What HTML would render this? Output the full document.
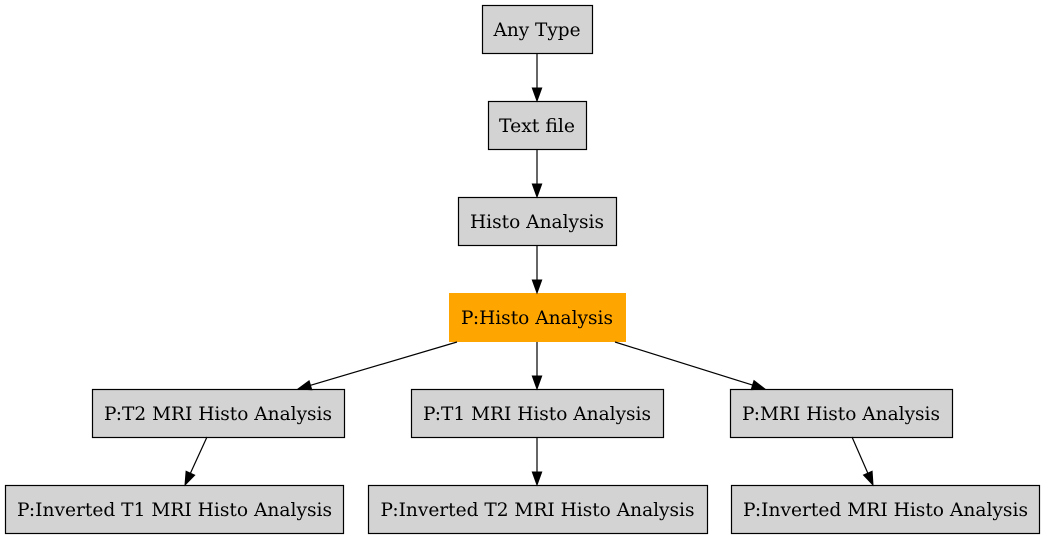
<!DOCTYPE html>
<html>
<head>
<meta charset="utf-8">
<style>
html,body{margin:0;padding:0;background:#fff;}
svg{display:block;}
text{font-family:"DejaVu Serif","Liberation Serif",serif;font-size:18.5px;fill:#000;}
</style>
</head>
<body>
<svg width="1045" height="539" viewBox="0 0 1045 539" xmlns="http://www.w3.org/2000/svg">
<g stroke="#000" stroke-width="1.2" fill="#d3d3d3">
<rect x="482.5" y="5.5" width="110" height="48"/>
<rect x="488.5" y="101.5" width="98" height="48"/>
<rect x="458.5" y="197.5" width="158" height="48"/>
<rect x="92.5" y="389.5" width="252" height="48"/>
<rect x="411.5" y="389.5" width="252" height="48"/>
<rect x="730.5" y="389.5" width="222" height="48"/>
<rect x="5.5" y="485.5" width="338" height="48"/>
<rect x="368.5" y="485.5" width="339" height="48"/>
<rect x="731.5" y="485.5" width="308" height="48"/>
</g>
<rect x="449" y="293" width="177" height="49" fill="#ffa500"/>

<g stroke="#000" stroke-width="1.2" fill="none">
<line x1="537" y1="53" x2="537" y2="89"/>
<line x1="537" y1="149" x2="537" y2="185"/>
<line x1="537" y1="245" x2="537" y2="281"/>
<line x1="537" y1="342" x2="537" y2="377"/>
<line x1="537" y1="437" x2="537" y2="473"/>
<line x1="457" y1="342" x2="310.5" y2="385.3"/>
<line x1="615" y1="342" x2="752.6" y2="385.1"/>
<line x1="207" y1="437" x2="190.4" y2="473.2"/>
<line x1="852" y1="437" x2="867.8" y2="473.1"/>
</g>
<g fill="#000" stroke="#000" stroke-width="1">
<polygon points="532.3,88 537,101 541.7,88"/>
<polygon points="532.3,184 537,197 541.7,184"/>
<polygon points="532.3,280 537,293 541.7,280"/>
<polygon points="532.3,376 537,389 541.7,376"/>
<polygon points="532.3,472 537,485 541.7,472"/>
<polygon points="311.8,389.8 298,389 309.1,380.8"/>
<polygon points="751.2,389.6 765,389 754.0,380.6"/>
<polygon points="194.7,475.1 185,485 186.1,471.2"/>
<polygon points="863.5,475.0 873,485 872.1,471.2"/>
</g>

<g text-anchor="middle">
<text x="537" y="36" textLength="87" lengthAdjust="spacingAndGlyphs">Any Type</text>
<text x="537" y="132" textLength="76" lengthAdjust="spacingAndGlyphs">Text file</text>
<text x="537" y="228" textLength="134" lengthAdjust="spacingAndGlyphs">Histo Analysis</text>
<text x="537" y="324" textLength="152" lengthAdjust="spacingAndGlyphs">P:Histo Analysis</text>
<text x="218" y="420" textLength="228" lengthAdjust="spacingAndGlyphs">P:T2 MRI Histo Analysis</text>
<text x="537" y="420" textLength="228" lengthAdjust="spacingAndGlyphs">P:T1 MRI Histo Analysis</text>
<text x="841" y="420" textLength="198" lengthAdjust="spacingAndGlyphs">P:MRI Histo Analysis</text>
<text x="174.5" y="516" textLength="315" lengthAdjust="spacingAndGlyphs">P:Inverted T1 MRI Histo Analysis</text>
<text x="537.5" y="516" textLength="314" lengthAdjust="spacingAndGlyphs">P:Inverted T2 MRI Histo Analysis</text>
<text x="885.5" y="516" textLength="285" lengthAdjust="spacingAndGlyphs">P:Inverted MRI Histo Analysis</text>
</g>
</svg>
</body>
</html>
